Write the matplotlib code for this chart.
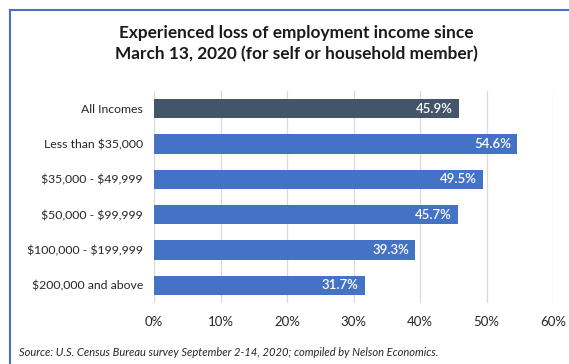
import matplotlib.pyplot as plt
from matplotlib.lines import Line2D

plt.rcParams['font.family'] = ['Lato', 'DejaVu Sans']
plt.rcParams['text.parse_math'] = False

# Share of respondents reporting lost employment income, by household income
categories = ["All Incomes", "Less than $35,000", "$35,000 - $49,999",
              "$50,000 - $99,999", "$100,000 - $199,999", "$200,000 and above"]
values = [45.9, 54.6, 49.5, 45.7, 39.3, 31.7]
bar_colors = ["#44546A", "#4472C4", "#4472C4", "#4472C4", "#4472C4", "#4472C4"]
x_ticks = [0, 10, 20, 30, 40, 50, 60]

fig = plt.figure(figsize=(5.69, 3.64), dpi=100)
ax = fig.add_axes([154 / 569, 1 - 303 / 364, 399 / 569, 212 / 364])

ypos = list(range(len(categories)))
ax.barh(ypos, values, height=0.54, color=bar_colors, zorder=3)
for y, v in zip(ypos, values):
    ax.annotate(f"{v:.1f}%", xy=(v, y), xytext=(-4.5, 0), textcoords="offset points",
                ha="right", va="center", color="white", fontsize=9.5,
                fontweight="semibold", zorder=4)

ax.set_ylim(len(categories) - 0.5, -0.5)
ax.set_yticks(ypos)
ax.set_yticklabels(categories, fontsize=8.8, color="#262626")
ax.set_xlim(0, 60)
ax.set_xticks(x_ticks)
ax.set_xticklabels([f"{t}%" for t in x_ticks], fontsize=9.5, color="#262626")
ax.tick_params(length=0)
ax.tick_params(axis="y", pad=8)
ax.tick_params(axis="x", pad=9)
ax.grid(axis="x", color="#D9D9D9", linewidth=0.9, zorder=0)
for s in ax.spines.values():
    s.set_visible(False)

fig.text(296 / 569, 1 - 44 / 364, "Experienced loss of employment income since\n"
         "March 13, 2020 (for self or household member)",
         ha="center", va="center", fontsize=12.4, fontweight="bold",
         color="#1a1a1a", linespacing=1.38)

fig.text(19 / 569, 1 - 353 / 364,
         "Source: U.S. Census Bureau survey September 2-14, 2020; compiled by Nelson Economics.",
         ha="left", va="center", fontsize=8, style="italic", color="#262626")

# chart frame (top and left edges)
fig.add_artist(Line2D([10 / 569, 10 / 569], [0, 1 - 10 / 364], transform=fig.transFigure,
                      color="#4472C4", linewidth=1.5))
fig.add_artist(Line2D([10 / 569, 1], [1 - 10 / 364, 1 - 10 / 364], transform=fig.transFigure,
                      color="#4472C4", linewidth=1.5))

fig.savefig("out.png", dpi=100)
